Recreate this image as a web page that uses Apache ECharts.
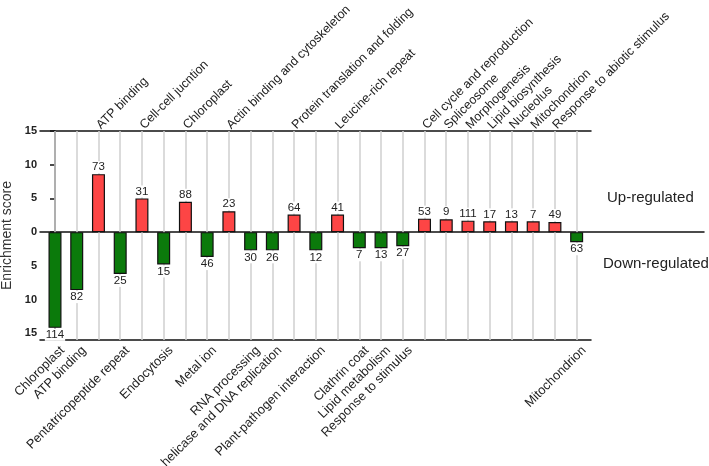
<!DOCTYPE html>
<html>
<head>
<meta charset="utf-8">
<script src="https://cdn.jsdelivr.net/npm/echarts@6/dist/echarts.min.js"></script>
<style>
  html, body { margin: 0; padding: 0; background: #fff; }
  #chart { width: 709px; height: 466px; }
</style>
</head>
<body>
<div id="chart"></div>
<script>
// categories in drawing order (left to right)
const terms = [
  "Chloroplast", "ATP binding", "ATP binding", "Pentatricopeptide repeat",
  "Cell-cell jucntion", "Endocytosis", "Chloroplast", "Metal ion",
  "Actin binding and cytoskeleton", "RNA processing", "helicase and DNA replication",
  "Protein translation and folding", "Plant-pathogen interaction", "Leucine-rich repeat",
  "Clathrin coat", "Lipid metabolism", "Response to stimulus",
  "Cell cycle and reproduction", "Spliceosome", "Morphogenesis", "Lipid biosynthesis",
  "Nucleolus", "Mitochondrion", "Response to abiotic stimulus", "Mitochondrion"
];
// enrichment score (down-regulated as negative)
const scores = [
  -14.2, -8.6, 8.6, -6.2, 5.0, -4.8, 4.5, -3.7, 3.1, -2.7, -2.7, 2.6, -2.7,
  2.6, -2.4, -2.4, -2.1, 2.0, 1.9, 1.7, 1.6, 1.6, 1.6, 1.5, -1.5
];
// number of genes in each term
const counts = [
  114, 82, 73, 25, 31, 15, 88, 46, 23, 30, 26, 64, 12, 41, 7, 13, 27, 53, 9,
  111, 17, 13, 7, 49, 63
];
const yTicks = [-15, -10, -5, 0, 5, 10, 15];

const idx = terms.map((t, i) => i);
const upIdx = idx.filter(i => scores[i] > 0);
const downIdx = idx.filter(i => scores[i] < 0);

const font = "Liberation Sans";
const chart = echarts.init(document.getElementById("chart"));

const xRange = { min: -0.69, max: 24.66 };

const option = {
  animation: false,
  grid: [
    { left: 40, right: 118, top: 131, height: 209, outerBoundsMode: "none" },
    { left: 40, right: 5, top: 131, height: 209, outerBoundsMode: "none" }
  ],
  xAxis: [
    {
      // bottom axis: down-regulated terms
      type: "value", gridIndex: 0, position: "bottom",
      min: xRange.min, max: xRange.max,
      axisLine: { onZero: false, lineStyle: { color: "#111", width: 1.5 } },
      axisTick: {
        show: true, inside: true, length: 209, customValues: idx,
        lineStyle: { color: "#cfcfcf", width: 1.5 }
      },
      splitLine: { show: false },
      axisLabel: {
        customValues: downIdx, rotate: 45, margin: 1,
        align: "right", verticalAlign: "top", padding: [4, 0, 0, 0],
        fontFamily: font, fontSize: 12.8, color: "#222",
        formatter: v => terms[Math.round(v)]
      }
    },
    {
      // top axis: up-regulated terms
      type: "value", gridIndex: 0, position: "top",
      min: xRange.min, max: xRange.max,
      axisLine: { onZero: false, lineStyle: { color: "#111", width: 1.5 } },
      axisTick: { show: false },
      splitLine: { show: false },
      axisLabel: {
        customValues: upIdx, rotate: -45, margin: 4,
        fontFamily: font, fontSize: 12.5, color: "#222",
        formatter: v => terms[Math.round(v)]
      }
    },
    {
      // long zero line
      type: "value", gridIndex: 1, min: 0, max: 1,
      axisLine: { onZero: true, lineStyle: { color: "#111", width: 1.5 } },
      axisTick: { show: false }, axisLabel: { show: false }, splitLine: { show: false }
    }
  ],
  yAxis: [
    {
      type: "value", gridIndex: 0, min: -16, max: 15,
      name: "Enrichment score", nameLocation: "middle", nameRotate: 90, nameGap: 20,
      nameTextStyle: { fontFamily: font, fontSize: 14, color: "#333" },
      axisLine: { show: true, lineStyle: { color: "#111", width: 1.5 } },
      axisTick: { show: true, length: 5, customValues: yTicks, lineStyle: { color: "#111", width: 1.5 } },
      axisLabel: {
        customValues: yTicks, margin: 3, fontFamily: font, fontSize: 11,
        fontWeight: "bold", color: "#222", formatter: v => Math.abs(v)
      },
      splitLine: { show: false }
    },
    {
      type: "value", gridIndex: 1, min: -16, max: 15, show: false
    }
  ],
  graphic: [
    { type: "text", left: 607, top: 190, style: { text: "Up-regulated", font: "15px " + font, fill: "#222" } },
    { type: "text", left: 603, top: 256, style: { text: "Down-regulated", font: "15px " + font, fill: "#222" } }
  ],
  series: [
    {
      type: "bar", xAxisIndex: 0, yAxisIndex: 0,
      barWidth: 13,
      data: scores.map((s, i) => ({
        value: [i, s],
        itemStyle: { color: s > 0 ? "#fd4545" : "#0b7a0b", borderColor: "#111", borderWidth: 1.2 },
        label: {
          show: true, position: s > 0 ? "top" : "bottom", distance: 1,
          backgroundColor: "#fff", padding: [0, 1],
          formatter: () => counts[i], fontFamily: font, fontSize: 11.5, color: "#222"
        }
      }))
    }
  ]
};
chart.setOption(option);
</script>
</body>
</html>
